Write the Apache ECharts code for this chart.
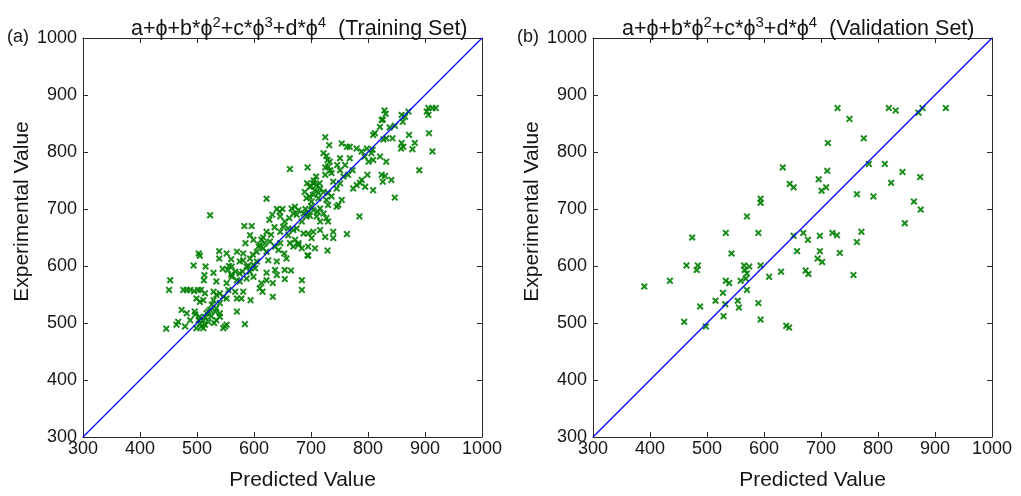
<!DOCTYPE html>
<html><head><meta charset="utf-8">
<script src="https://cdn.jsdelivr.net/npm/echarts@6/dist/echarts.min.js"></script>
<style>html,body{margin:0;padding:0;background:#fff}#c{width:1021px;height:496px}</style>
</head><body><div id="c"></div>
<script>
// ---- Data ----
const trainPred = [
906,913,919,903,829,831,826,871,859,865,861,847,838,824,821,906,
812,809,907,872,843,827,832,725,732,754,763,768,780,798,808,859,882,862,878,858,913,806,821,789,794,722,727,
768,751,733,730,729,746,760,725,734,663,694,751,773,801,809,832,799,890,824,789,736,725,709,757,765,
704,710,698,716,707,713,704,697,722,730,745,751,739,786,795,809,826,830,841,847,774,780,727,713,689,692,701,736,754,
622,666,672,678,669,675,687,692,698,684,704,716,730,745,748,727,730,716,710,722,785,523,627,646,654,662,
583,596,651,660,669,675,646,660,672,678,687,695,704,716,701,725,739,739,763,593,599,613,619,628,610,
585,608,616,622,637,643,646,653,657,663,669,678,684,695,707,694,695,729,539,552,570,581,539,503,505,581,575,593,605,625,640,
494,515,513,529,554,561,567,575,587,599,602,593,622,637,654,665,561,570,575,587,599,613,622,640,654,684,453,512,534,552,
451,476,482,488,495,502,507,514,529,534,540,546,555,567,581,594,610,615,633,633,684,499,505,511,529,540,552,570,578,526,534,
473,482,496,505,511,517,523,532,540,488,467,464,479,505,508,514,520,534,540,570,549,552,584,446,499,511,546,
700,705,693,715,700,690,695,712,640,645,632,650,622,630,636,616,605,598,560,556,545,520,515,503,525,530,497,560,580,590
];
const trainExp = [
877,877,877,871,873,867,857,871,865,862,853,846,843,856,844,865,
833,830,833,830,824,822,824,826,812,815,809,809,806,806,804,816,816,809,805,806,801,798,792,801,792,798,793,
789,789,783,774,786,777,777,773,768,770,773,768,768,783,786,783,760,768,760,751,763,760,757,757,760,
745,742,739,736,733,728,725,722,730,728,736,745,748,746,739,733,748,758,751,720,736,742,716,719,730,719,713,722,716,
718,701,704,698,692,690,692,687,688,678,698,701,707,704,707,684,678,678,687,692,687,689,681,687,678,684,
670,670,669,666,663,666,660,654,646,640,657,657,660,663,649,651,660,649,656,654,646,646,640,643,637,
640,634,631,625,634,628,640,622,613,640,634,637,631,634,631,619,618,627,626,622,625,622,613,622,618,610,608,613,608,610,608,
601,599,584,588,593,599,590,587,599,602,596,590,588,593,593,592,581,575,573,578,581,570,575,584,577,575,575,575,573,570,
558,558,558,558,556,558,558,552,555,549,552,546,558,555,555,540,561,555,570,546,558,543,537,540,540,535,543,543,543,532,526,
523,517,520,511,505,517,523,520,517,505,502,497,494,499,494,497,502,505,511,520,494,497,498,490,491,491,491,
740,750,745,745,705,700,695,695,700,695,690,700,660,655,668,650,625,620,612,600,595,520,510,505,512,500,515,585,590,600
];
const validPred = [
390,435,460,464,474,482,484,488,498,515,528,529,532,533,533,539,543,554,556,559,565,566,568,570,570,570,574,590,590,594,
594,594,594,609,630,633,639,644,645,652,652,658,669,673,677,678,694,696,698,698,701,702,709,711,712,720,728,729,733,750,
757,763,763,771,775,784,792,812,819,823,831,843,847,863,871,874,875,878,919
];
const validExp = [
564,574,502,601,650,593,601,529,494,539,553,512,533,658,574,570,622,539,527,574,601,593,578,587,687,558,599,658,535,718,
711,601,506,581,590,773,495,492,744,738,653,626,658,592,646,586,613,752,626,653,732,607,738,767,816,658,654,877,623,858,
584,726,642,660,824,779,722,779,877,746,873,765,675,713,869,756,699,877,877
];
const axisMin = 300, axisMax = 1000, axisStep = 100;
const diagonal = [[300, 300], [1000, 1000]];
const panelLabels = ['(a)', '(b)'];
const setNames = ['Training Set', 'Validation Set'];

// ---- Chart ----
const FONT = "'Liberation Sans', Arial, 'DejaVu Sans', sans-serif";
const AX = '#2a2a2a';
const TXT = '#151515';
const GREEN = '#008000';
const XSYM = 'path://M0,2L2,0L5,3L8,0L10,2L7,5L10,8L8,10L5,7L2,10L0,8L3,5Z';
const gridLefts = [83, 593];

function zip(a, b) { return a.map((v, i) => [v, b[i]]); }
const plainNum = v => String(v);

const xAxis = [], yAxis = [], grid = [], series = [], title = [], graphic = [];
gridLefts.forEach((left, g) => {
  grid.push({left: left, top: 38, width: 399, height: 399, containLabel: false, outerBoundsMode: 'none'});
  const base = {
    gridIndex: g, type: 'value', min: axisMin, max: axisMax, interval: axisStep,
    axisLine: {show: true, onZero: false, lineStyle: {color: AX, width: 1}},
    axisTick: {show: true, inside: true, length: 5, lineStyle: {color: AX, width: 1}},
    splitLine: {show: false}
  };
  xAxis.push(Object.assign({}, base, {
    position: 'bottom',
    axisLabel: {show: true, fontSize: 18, color: TXT, fontFamily: FONT, margin: 3, showMinLabel: true, showMaxLabel: true, formatter: plainNum},
    name: 'Predicted Value', nameLocation: 'middle', nameGap: 33,
    nameTextStyle: {fontSize: 21, color: TXT, fontFamily: FONT, padding: [0, 0, 0, 40]}
  }));
  xAxis.push(Object.assign({}, base, {position: 'top', axisLabel: {show: false}}));
  yAxis.push(Object.assign({}, base, {
    position: 'left',
    axisLabel: {show: true, fontSize: 18, color: TXT, fontFamily: FONT, margin: 6, showMinLabel: true, showMaxLabel: true, formatter: plainNum},
    name: 'Experimental Value', nameLocation: 'middle', nameGap: 50,
    nameTextStyle: {fontSize: 21, color: TXT, fontFamily: FONT, padding: [0, 0, 0, 52]}
  }));
  yAxis.push(Object.assign({}, base, {position: 'right', axisLabel: {show: false}}));

  const pts = g === 0 ? zip(trainPred, trainExp) : zip(validPred, validExp);
  series.push({
    type: 'scatter', xAxisIndex: 2 * g, yAxisIndex: 2 * g, data: pts,
    symbol: XSYM, symbolSize: 7, itemStyle: {color: GREEN, opacity: 0.9}, z: 2, silent: true
  });
  series.push({
    type: 'line', xAxisIndex: 2 * g, yAxisIndex: 2 * g, data: diagonal,
    symbol: 'none', lineStyle: {color: '#0000ff', width: 1.2}, z: 3, silent: true
  });
  title.push({
    text: '{n|a+ϕ+b*ϕ}{s|2}{n|+c*ϕ}{s|3}{n|+d*ϕ}{s|4}{n|  (' + setNames[g] + ')}',
    left: g === 0 ? 126 : 617, top: 10,
    textStyle: {
      fontFamily: FONT, fontWeight: 'normal',
      rich: {
        n: {fontSize: 21.5, color: TXT, fontFamily: FONT, fontWeight: 'normal', lineHeight: 28},
        s: {fontSize: 15, color: TXT, fontFamily: FONT, fontWeight: 'normal', lineHeight: 16, verticalAlign: 'top'}
      }
    }
  });
  graphic.push({
    type: 'text', left: g === 0 ? 7 : 517, top: 28,
    style: {text: panelLabels[g], fontSize: 18, fill: TXT, fontFamily: FONT}
  });
});

const chart = echarts.init(document.getElementById('c'), null, {renderer: 'canvas'});
chart.setOption({
  animation: false,
  backgroundColor: '#ffffff',
  title: title, grid: grid, xAxis: xAxis, yAxis: yAxis, series: series, graphic: graphic
});
</script>
</body></html>
